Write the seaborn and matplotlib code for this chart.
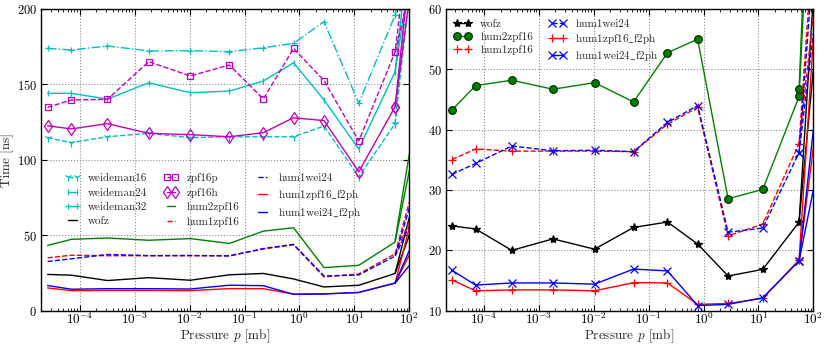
import numpy as np
import matplotlib
matplotlib.use("Agg")
import matplotlib.pyplot as plt
import seaborn as sns
from matplotlib.lines import Line2D
from matplotlib.ticker import LogLocator, NullFormatter, MultipleLocator, FixedLocator

# ---------------- data ----------------
pressure = [2.6e-5, 7.0e-5, 3.2e-4, 1.8e-3, 1.03e-2, 5.3e-2, 0.22, 0.78, 2.8, 12.0, 55.0]
p_edge = 100.0
x_ticks = [1e-4, 1e-3, 1e-2, 1e-1, 1e0, 1e1, 1e2]

weideman16 = [114.7, 111.4, 115.3, 117.6, 114.7, 115.3, 115.3, 115.3, 122.4, 88.8, 124.0]
weideman24 = [144.1, 144.1, 140.3, 151.1, 144.5, 145.6, 152.3, 164.4, 139.7, 107.2, 158.4]
weideman32 = [173.9, 172.8, 175.5, 172.2, 172.4, 171.7, 174.3, 177.2, 191.6, 137.5, 196.0]
zpf16p = [134.8, 139.7, 140.1, 165.1, 155.6, 162.9, 140.3, 173.9, 152.5, 112.5, 171.5]
zpf16h = [122.6, 120.5, 124.0, 117.6, 116.7, 115.3, 118.0, 127.9, 126.0, 92.1, 135.2]
wofz = [24.05, 23.55, 20.0, 21.9, 20.2, 23.8, 24.7, 21.05, 15.75, 16.85, 24.7]
hum2zpf16 = [43.25, 47.3, 48.2, 46.7, 47.8, 44.6, 52.75, 55.0, 28.55, 30.1, 45.5]
hum1zpf16 = [35.05, 36.8, 36.45, 36.45, 36.45, 36.35, 40.9, 43.7, 22.4, 24.35, 37.7]
hum1wei24 = [32.6, 34.4, 37.3, 36.5, 36.6, 36.35, 41.2, 44.0, 23.0, 23.7, 36.2]
hum1zpf16_f2ph = [15.1, 13.3, 13.45, 13.45, 13.3, 14.65, 14.6, 11.05, 11.2, 12.05, 18.4]
hum1wei24_f2ph = [16.7, 14.25, 14.6, 14.6, 14.4, 16.9, 16.6, 10.85, 11.05, 12.15, 18.25]

# values where the steep final segments leave the plot at p = 100 mb (two branches each)
names = ["weideman16", "weideman24", "weideman32", "wofz", "zpf16p", "zpf16h",
         "hum2zpf16", "hum1zpf16", "hum1wei24", "hum1zpf16_f2ph", "hum1wei24_f2ph"]
edge_a = [230, 245, 260, 62, 251, 226, 93, 72, 68, 55, 40]
edge_b = [210, 220, 235, 50, 211, 207, 104, 59, 56, 37, 30]
start_b = [124.0, 158.4, 196.0, 24.7, 171.5, 135.2, 46.7, 37.7, 36.2, 18.4, 18.25]

values = dict(weideman16=weideman16, weideman24=weideman24, weideman32=weideman32,
              wofz=wofz, zpf16p=zpf16p, zpf16h=zpf16h, hum2zpf16=hum2zpf16,
              hum1zpf16=hum1zpf16, hum1wei24=hum1wei24,
              hum1zpf16_f2ph=hum1zpf16_f2ph, hum1wei24_f2ph=hum1wei24_f2ph)

# ---------------- styles ----------------
C, M = "#00bfbf", "#bf00bf"
style_left = {
    "weideman16": dict(color=C, ls="--", marker="1", ms=6, mfc=C),
    "weideman24": dict(color=C, ls="-", marker="|", ms=4, mfc=C),
    "weideman32": dict(color=C, ls="-.", marker="+", ms=5, mfc=C),
    "wofz": dict(color="k", ls="-", marker=None),
    "zpf16p": dict(color=M, ls="--", marker="s", ms=5, mfc="none"),
    "zpf16h": dict(color=M, ls="-", marker="d", ms=6, mfc="none"),
    "hum2zpf16": dict(color="g", ls="-", marker=None),
    "hum1zpf16": dict(color="r", ls="--", marker=None),
    "hum1wei24": dict(color="b", ls="--", marker=None),
    "hum1zpf16_f2ph": dict(color="r", ls="-", marker=None),
    "hum1wei24_f2ph": dict(color="b", ls="-", marker=None),
}
style_right = {
    "wofz": dict(color="k", ls="-", marker="*", ms=6, mfc="k", mec="k"),
    "hum2zpf16": dict(color="g", ls="-", marker="o", ms=5.5, mfc="g", mec="#003300"),
    "hum1zpf16": dict(color="r", ls="--", marker="+", ms=6, mfc="r"),
    "hum1wei24": dict(color="b", ls="--", marker="x", ms=5.5, mfc="b"),
    "hum1zpf16_f2ph": dict(color="r", ls="-", marker="+", ms=6, mfc="r"),
    "hum1wei24_f2ph": dict(color="b", ls="-", marker="x", ms=5.5, mfc="b"),
}

sns.set_style("ticks")
plt.rcParams.update({
    "font.family": ["cmr10", "DejaVu Serif"],
    "mathtext.fontset": "cm",
    "axes.formatter.use_mathtext": True,
    "axes.unicode_minus": False,
    "font.size": 9,
    "axes.edgecolor": "k",
    "axes.linewidth": 1.0,
    "xtick.color": "k",
    "ytick.color": "k",
})

fig = plt.figure(figsize=(8.3, 3.46), dpi=100)
axL = fig.add_axes([0.0498, 0.102, 0.4434, 0.872])
axR = fig.add_axes([0.537, 0.102, 0.4429, 0.872])


def draw(ax, name, st):
    idx = names.index(name)
    kw = dict(color=st["color"], linestyle=st["ls"], lw=1.0)
    mk = st.get("marker")
    if mk is not None:
        kw.update(marker=mk, markersize=st["ms"], markerfacecolor=st["mfc"],
                  markeredgecolor=st.get("mec", st["color"]), markeredgewidth=0.9)
    x1 = pressure + [p_edge]
    y1 = values[name] + [edge_a[idx]]
    kw1 = dict(kw)
    if mk is not None:
        kw1["markevery"] = list(range(len(pressure)))
    sns.lineplot(x=x1, y=y1, ax=ax, sort=False, estimator=None, errorbar=None,
                 legend=False, **kw1)
    kw2 = dict(kw)
    if mk is not None:
        kw2["markevery"] = [0]
    sns.lineplot(x=[pressure[-1], p_edge], y=[start_b[idx], edge_b[idx]], ax=ax,
                 sort=False, estimator=None, errorbar=None, legend=False, **kw2)


def label_of(n):
    return n.replace("_", r"$\_$")


def proxy(st, label):
    kw = dict(color=st["color"], linestyle=st["ls"], lw=1.0)
    if st.get("marker") is not None:
        kw.update(marker=st["marker"], markersize=st["ms"], markerfacecolor=st["mfc"],
                  markeredgecolor=st.get("mec", st["color"]), markeredgewidth=0.9)
    return Line2D([], [], label=label_of(label), **kw)


left_order = ["weideman16", "weideman24", "weideman32", "wofz", "zpf16p", "zpf16h",
              "hum2zpf16", "hum1zpf16", "hum1wei24", "hum1zpf16_f2ph", "hum1wei24_f2ph"]
for n in left_order:
    draw(axL, n, style_left[n])

right_order = ["wofz", "hum2zpf16", "hum1zpf16", "hum1wei24", "hum1zpf16_f2ph", "hum1wei24_f2ph"]
for n in right_order:
    draw(axR, n, style_right[n])

for ax in (axL, axR):
    ax.set_xscale("log")
    ax.set_xlim(2e-5, 100)
    ax.xaxis.set_major_locator(FixedLocator(x_ticks))
    ax.xaxis.set_minor_locator(LogLocator(base=10, subs=np.arange(2, 10), numticks=100))
    ax.xaxis.set_minor_formatter(NullFormatter())
    ax.grid(True, which="major", linestyle=":", color="0.55", lw=0.8)
    ax.tick_params(which="both", direction="in", top=True, right=True)
    ax.tick_params(which="major", length=4, labelsize=9.5)
    ax.tick_params(axis="x", which="major", pad=0.8)
    ax.tick_params(axis="y", which="major", pad=3, labelsize=9)
    ax.tick_params(which="minor", length=2)
    ax.set_xlabel("Pressure $p$ [mb]", fontsize=9.5, labelpad=0)
    for s in ax.spines.values():
        s.set_visible(True)
        s.set_color("k")

axL.set_ylim(0, 200)
axL.yaxis.set_major_locator(MultipleLocator(50))
axL.set_ylabel("Time [ns]", fontsize=9.5, labelpad=2)
axR.set_ylim(10, 60)
axR.yaxis.set_major_locator(MultipleLocator(10))

hL = [proxy(style_left[n], n) for n in left_order]
axL.legend(handles=hL, ncol=3, loc="upper left", bbox_to_anchor=(0.052, 0.47),
           borderaxespad=0, frameon=False, numpoints=2, fontsize=8,
           handlelength=1.4, handletextpad=0.7, columnspacing=1.4, labelspacing=0.4)

hR = [proxy(style_right[n], n) for n in right_order]
axR.legend(handles=hR, ncol=2, loc="upper left", bbox_to_anchor=(0.009, 0.98),
           borderaxespad=0, frameon=False, numpoints=2, fontsize=8,
           handlelength=1.6, handletextpad=0.8, columnspacing=1.4, labelspacing=0.25)

fig.savefig("out.png", dpi=100)
